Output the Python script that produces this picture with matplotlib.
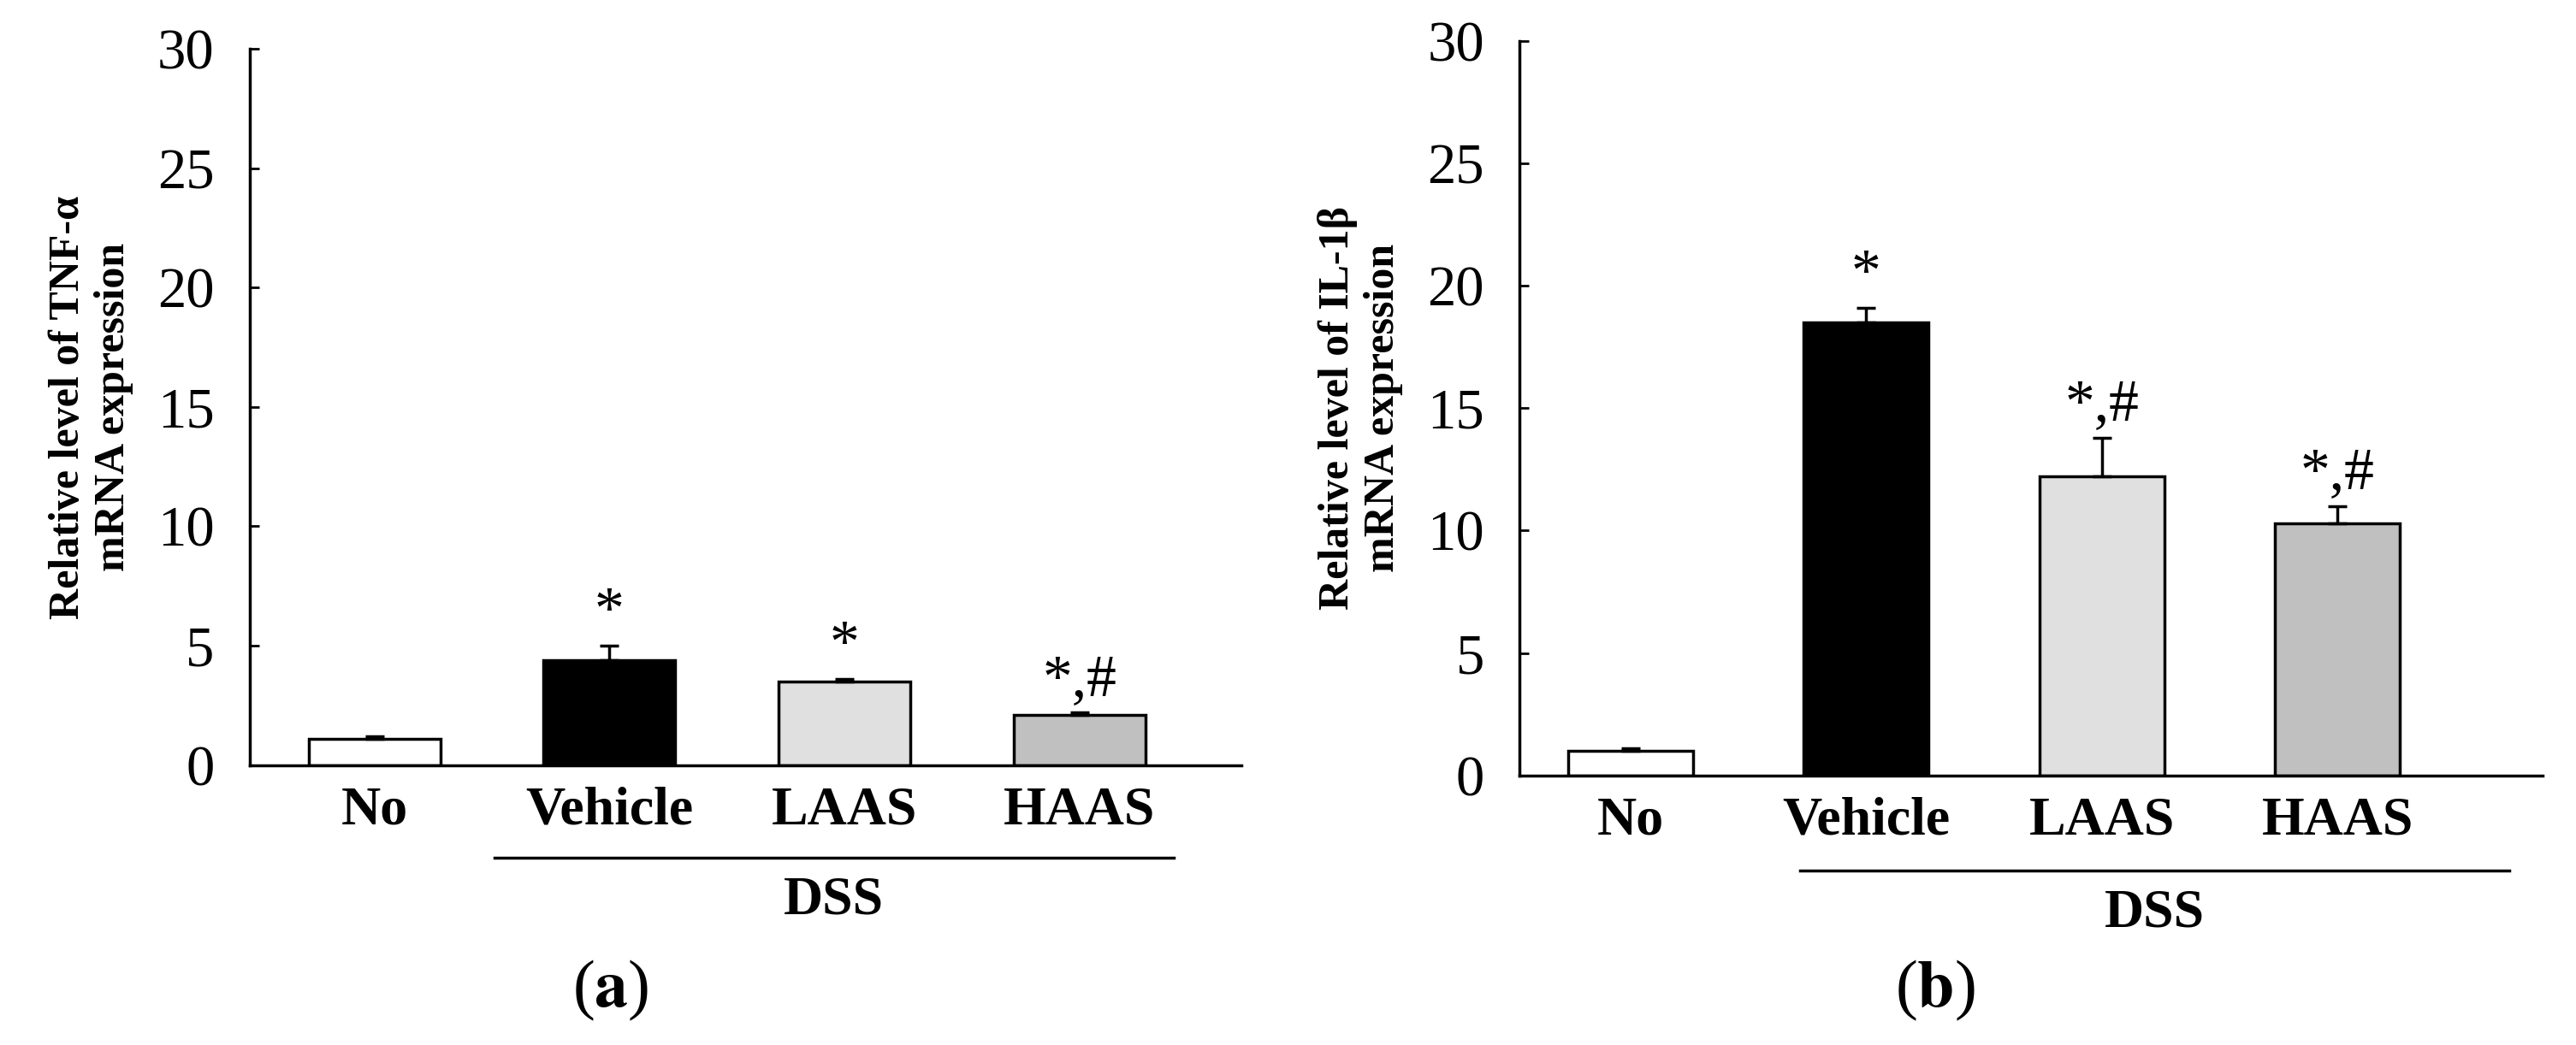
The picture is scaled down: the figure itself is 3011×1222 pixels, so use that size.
import matplotlib
matplotlib.use("Agg")
import matplotlib.pyplot as plt

categories = ["No", "Vehicle", "LAAS", "HAAS"]
tnf_values = [1.1, 4.4, 3.5, 2.1]
tnf_errors = [0.1, 0.6, 0.1, 0.1]
tnf_marks = ["", "*", "*", "*,#"]
il_values = [1.0, 18.5, 12.2, 10.3]
il_errors = [0.1, 0.6, 1.6, 0.7]
il_marks = ["", "*", "*,#", "*,#"]
colors = ["white", "black", "#e0e0e0", "#c0c0c0"]
yticks = [0, 5, 10, 15, 20, 25, 30]

plt.rcParams['font.family'] = ['Liberation Serif', 'DejaVu Serif']
plt.rcParams['mathtext.fontset'] = 'stix'
fig = plt.figure(figsize=(30.11, 12.22), dpi=100)

panels = [
    dict(rect=[0.097, 0.268, 0.385, 0.685], vals=tnf_values, errs=tnf_errors, marks=tnf_marks,
         xlim=(-0.53, 3.69), width=0.56, ylabel="Relative level of TNF-α\nmRNA expression",
         line=(0.51, 3.4), tag="a", tagx=714),
    dict(rect=[0.590, 0.258, 0.397, 0.703], vals=il_values, errs=il_errors, marks=il_marks,
         xlim=(-0.47, 3.87), width=0.53, ylabel="Relative level of IL-1β\nmRNA expression",
         line=(0.72, 3.73), tag="b", tagx=2262),
]

for p in panels:
    ax = fig.add_axes(p["rect"])
    x = list(range(len(categories)))
    ax.bar(x, p["vals"], width=p["width"], color=colors, edgecolor="black", linewidth=2.5, zorder=2)
    ax.errorbar(x, p["vals"], yerr=[[0]*4, p["errs"]], fmt="none", ecolor="black",
                elinewidth=2.5, capsize=8, capthick=2.5, zorder=3)
    for xi, v, e, m in zip(x, p["vals"], p["errs"], p["marks"]):
        if m:
            ax.text(xi, v + e + 0.2, m, ha="center", va="bottom", fontsize=50)
    ax.set_xlim(*p["xlim"])
    ax.set_ylim(0, 30)
    ax.set_yticks(yticks)
    ax.set_yticklabels([str(t) for t in yticks], fontsize=48)
    ax.tick_params(axis="y", direction="in", length=8, width=2, pad=30)
    ax.set_xticks(x)
    ax.set_xticklabels(categories, fontsize=46, fontweight="bold")
    ax.tick_params(axis="x", length=0, pad=18)
    for s in ["top", "right"]:
        ax.spines[s].set_visible(False)
    ax.spines["left"].set_linewidth(2.5)
    ax.spines["bottom"].set_linewidth(2.5)
    ax.set_ylabel(p["ylabel"], fontsize=36, fontweight="bold", labelpad=20)
    tr = ax.get_xaxis_transform()
    ax.plot(p["line"], [-0.13, -0.13], color="black", lw=2.5, transform=tr, clip_on=False)
    ax.text((p["line"][0] + p["line"][1]) / 2, -0.155, "DSS", ha="center", va="top",
            fontsize=46, fontweight="bold", transform=tr)
    fig.text(p["tagx"] / 3011, 1 - 1158 / 1222, "(" + r"$\mathbf{" + p["tag"] + "}$" + ")",
             ha="center", va="center", fontsize=56)

fig.savefig("out.png", dpi=100)
